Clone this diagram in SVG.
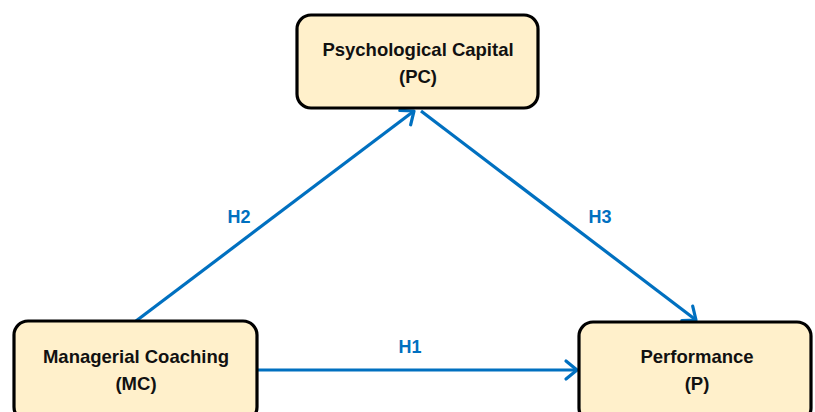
<svg xmlns="http://www.w3.org/2000/svg" width="815" height="412" viewBox="0 0 815 412">
<defs>
<marker id="arr" markerUnits="userSpaceOnUse" markerWidth="20" markerHeight="20" refX="14" refY="10" orient="auto" overflow="visible">
<path d="M3,1 L14,10 L3,19" fill="none" stroke="#0070C0" stroke-width="3.2" stroke-linecap="round" stroke-linejoin="round"/>
</marker>
<style>
.box{fill:#FFF0CB;stroke:#000;stroke-width:3.2}
.t{font-family:"Liberation Sans",Arial,sans-serif;font-weight:bold;font-size:18.5px;fill:#111;text-anchor:middle}
.lbl{font-family:"Liberation Sans",Arial,sans-serif;font-weight:bold;font-size:18px;fill:#0070C0;text-anchor:middle}
.c{fill:none;stroke:#0070C0;stroke-width:3.2}
</style>
</defs>
<rect width="815" height="412" fill="#fff"/>
<g id="connectors">
<line class="c" x1="136" y1="321" x2="414" y2="111" marker-end="url(#arr)"/>
<line class="c" x1="421" y1="111" x2="696" y2="320" marker-end="url(#arr)"/>
<line class="c" x1="258" y1="370" x2="577" y2="370" marker-end="url(#arr)"/>
<text class="lbl" x="239" y="223">H2</text>
<text class="lbl" x="600" y="223">H3</text>
<text class="lbl" x="410" y="353">H1</text>
</g>
<g id="pc">
<rect class="box" x="297" y="15" width="241" height="93" rx="14"/>
<text class="t" x="418" y="56">Psychological Capital</text>
<text class="t" x="418" y="83">(PC)</text>
</g>
<g id="mc">
<rect class="box" x="14" y="321" width="243" height="100" rx="14"/>
<text class="t" x="136" y="363">Managerial Coaching</text>
<text class="t" x="136" y="390">(MC)</text>
</g>
<g id="p">
<rect class="box" x="579" y="322" width="232" height="100" rx="14"/>
<text class="t" x="697" y="363">Performance</text>
<text class="t" x="697" y="390">(P)</text>
</g>
</svg>
